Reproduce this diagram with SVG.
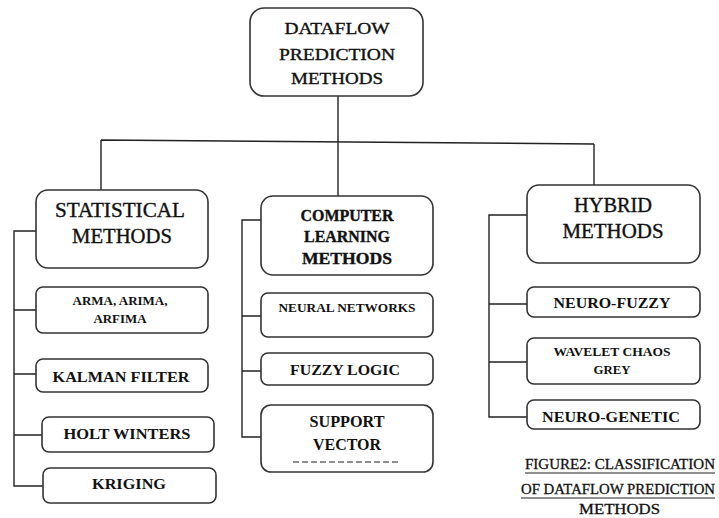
<svg xmlns="http://www.w3.org/2000/svg" width="719" height="518" viewBox="0 0 719 518" font-family="'Liberation Serif', 'DejaVu Serif', serif">
<style>
.box{fill:#fff;stroke:#333;stroke-width:1.6}
.ln{fill:none;stroke:#222;stroke-width:1.4}
text{font-family:'Liberation Serif','DejaVu Serif',serif;fill:#111;text-anchor:middle}
.big{font-size:20px;stroke:#111;stroke-width:0.35}
.mid{font-size:16px;stroke:#111;stroke-width:0.35}
.b{font-weight:bold}
.cap{font-size:15px;text-anchor:start;stroke:#111;stroke-width:0.3}
</style>
<rect width="719" height="518" fill="#fff"/>
<g id="connectors" class="ln">
<path d="M338 96V143M101 140L594 144M101 140V190M594 144V185M338 143V196"/>
<path d="M36 231H14V486H43M14 310H36M14 374H36M14 435H42"/>
<path d="M261 220H242V437H261M242 316H261M242 371H261"/>
<path d="M527 215H489V417H527M489 304H527M489 362H527"/>
</g>
<g id="root"><rect class="box" x="250" y="8" width="173" height="88" rx="14"/>
<text class="mid" x="337" y="34" textLength="105" lengthAdjust="spacingAndGlyphs">DATAFLOW</text>
<text class="mid" x="337" y="60" textLength="116" lengthAdjust="spacingAndGlyphs">PREDICTION</text>
<text class="mid" x="337" y="84" textLength="92" lengthAdjust="spacingAndGlyphs">METHODS</text></g>
<g id="statistical"><rect class="box" x="36" y="190" width="172" height="78" rx="12"/>
<text class="big" x="120" y="217" textLength="130" lengthAdjust="spacingAndGlyphs">STATISTICAL</text>
<text class="big" x="122" y="243" textLength="100" lengthAdjust="spacingAndGlyphs">METHODS</text></g>
<g id="arma"><rect class="box" x="36" y="287" width="172" height="46" rx="7"/>
<text class="b" font-size="12.5" x="120" y="305" textLength="95" lengthAdjust="spacingAndGlyphs">ARMA, ARIMA,</text>
<text class="b" font-size="12.5" x="120" y="323" textLength="53" lengthAdjust="spacingAndGlyphs">ARFIMA</text></g>
<g id="kalman"><rect class="box" x="36" y="359" width="172" height="33" rx="7"/>
<text class="b" font-size="15" x="121" y="382" textLength="137" lengthAdjust="spacingAndGlyphs">KALMAN FILTER</text></g>
<g id="holt"><rect class="box" x="42" y="417" width="172" height="35" rx="7"/>
<text class="b" font-size="15" x="127" y="439" textLength="127" lengthAdjust="spacingAndGlyphs">HOLT WINTERS</text></g>
<g id="kriging"><rect class="box" x="43" y="468" width="173" height="35" rx="7"/>
<text class="b" font-size="15" x="129" y="489" textLength="74" lengthAdjust="spacingAndGlyphs">KRIGING</text></g>
<g id="computer"><rect class="box" x="261" y="196" width="172" height="79" rx="12"/>
<text class="mid b" x="347" y="221" textLength="93" lengthAdjust="spacingAndGlyphs">COMPUTER</text>
<text class="mid b" x="347" y="242" textLength="86" lengthAdjust="spacingAndGlyphs">LEARNING</text>
<text class="mid b" x="347" y="264" textLength="90" lengthAdjust="spacingAndGlyphs">METHODS</text></g>
<g id="neural"><rect class="box" x="261" y="293" width="172" height="44" rx="7"/>
<text class="b" font-size="13" x="347" y="312" textLength="137" lengthAdjust="spacingAndGlyphs">NEURAL NETWORKS</text></g>
<g id="fuzzy"><rect class="box" x="261" y="353" width="172" height="32" rx="7"/>
<text class="b" font-size="15" x="345" y="375" textLength="110" lengthAdjust="spacingAndGlyphs">FUZZY LOGIC</text></g>
<g id="support"><rect class="box" x="261" y="405" width="172" height="67" rx="10"/>
<text class="b" font-size="16" x="347" y="427" textLength="75" lengthAdjust="spacingAndGlyphs">SUPPORT</text>
<text class="b" font-size="16" x="347" y="450" textLength="68" lengthAdjust="spacingAndGlyphs">VECTOR</text>
<line x1="293" y1="462" x2="398" y2="462" stroke="#222" stroke-width="1.2" stroke-dasharray="6,3"/></g>
<g id="hybrid"><rect class="box" x="527" y="185" width="173" height="78" rx="12"/>
<text class="big" x="613" y="212" textLength="78" lengthAdjust="spacingAndGlyphs">HYBRID</text>
<text class="big" x="613" y="238" textLength="101" lengthAdjust="spacingAndGlyphs">METHODS</text></g>
<g id="neurofuzzy"><rect class="box" x="527" y="287" width="173" height="30" rx="7"/>
<text class="b" font-size="15" x="612" y="308" textLength="117" lengthAdjust="spacingAndGlyphs">NEURO-FUZZY</text></g>
<g id="wavelet"><rect class="box" x="527" y="338" width="173" height="46" rx="7"/>
<text class="b" font-size="13" x="612" y="356" textLength="117" lengthAdjust="spacingAndGlyphs">WAVELET CHAOS</text>
<text class="b" font-size="13" x="612" y="374" textLength="37" lengthAdjust="spacingAndGlyphs">GREY</text></g>
<g id="neurogenetic"><rect class="box" x="527" y="400" width="173" height="29" rx="7"/>
<text class="b" font-size="15" x="611" y="422" textLength="138" lengthAdjust="spacingAndGlyphs">NEURO-GENETIC</text></g>
<g id="caption">
<text class="cap" x="525" y="469" textLength="190" lengthAdjust="spacingAndGlyphs">FIGURE2: CLASSIFICATION</text>
<text class="cap" x="521" y="494" textLength="194" lengthAdjust="spacingAndGlyphs">OF DATAFLOW PREDICTION</text>
<text class="cap" x="579" y="514" textLength="81" lengthAdjust="spacingAndGlyphs">METHODS</text>
<path d="M525 473H715M521 498H715" stroke="#222" stroke-width="1"/>
</g>
</svg>
